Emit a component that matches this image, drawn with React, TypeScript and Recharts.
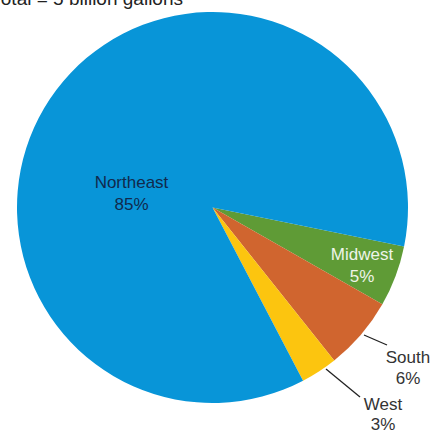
import { PieChart, Pie, Cell } from 'recharts'

// shares of total (percent), clockwise starting from the Midwest slice
const regions = ['Midwest', 'South', 'West', 'Northeast']
const shares = [5, 6, 3, 85]
const colors = ['#5f9b36', '#d0652f', '#fcc50f', '#0895d8']
const title = 'Total = 5 billion gallons'

const data = regions.map((name, i) => ({ name, value: shares[i] }))

// label placement relative to the pie centre (baselines of the two lines)
const labelLayout: Record<string, any> = {
  Northeast: { dx: -81, y1: -19.5, y2: 2.5, fill: '#112a4d' },
  Midwest:   { dx: 149.5, y1: 52.5, y2: 74.5, fill: '#eef4e8' },
  South:     { dx: 195.5, y1: 155.5, y2: 176, fill: '#333333', line: [151.5, 127.5, 174.5, 137.5] },
  West:      { dx: 170.5, y1: 202.5, y2: 222.5, fill: '#333333', line: [113.5, 161.5, 147.5, 189.5] },
}

const FONT = '"Liberation Sans", Arial, sans-serif'

const renderLabel = (props: any) => {
  const { cx, cy, name, value } = props
  const l = labelLayout[name]
  if (!l) return null
  return (
    <g key={name}>
      {l.line && (
        <line
          x1={cx + l.line[0]} y1={cy + l.line[1]}
          x2={cx + l.line[2]} y2={cy + l.line[3]}
          stroke="#222" strokeWidth={1.3}
        />
      )}
      <text x={cx + l.dx} y={cy + l.y1} textAnchor="middle" fill={l.fill}
        fontSize={17} fontFamily={FONT}>{name}</text>
      <text x={cx + l.dx} y={cy + l.y2} textAnchor="middle" fill={l.fill}
        fontSize={17} fontFamily={FONT}>{value}%</text>
    </g>
  )
}

export default function App() {
  return (
    <div style={{ position: 'absolute', left: 0, top: 0, width: 435, height: 432, background: '#fff' }}>
      <PieChart width={435} height={432} margin={{ top: 0, right: 0, bottom: 0, left: 0 }}>
        <text x={183} y={5} textAnchor="end" fill="#222" fontSize={19} fontFamily={FONT}>
          {title}
        </text>
        <Pie
          data={data}
          dataKey="value"
          nameKey="name"
          cx={212.5}
          cy={207.5}
          outerRadius={195.5}
          startAngle={-11.5}
          endAngle={-371.5}
          stroke="none"
          label={renderLabel}
          labelLine={false}
          isAnimationActive={false}
        >
          {data.map((d, i) => (
            <Cell key={d.name} fill={colors[i]} />
          ))}
        </Pie>
      </PieChart>
    </div>
  )
}
